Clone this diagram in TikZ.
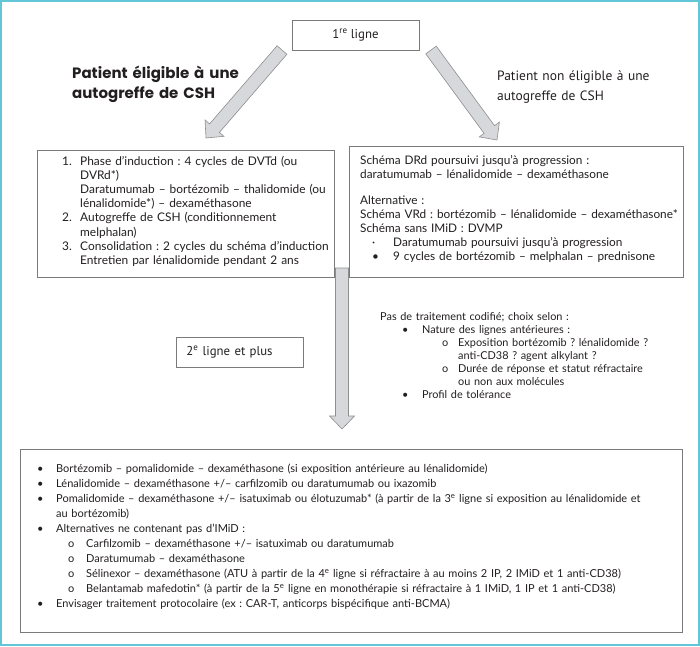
\documentclass[tikz,border=0pt]{standalone}
\usepackage{fontspec}
\setmainfont{Lato}
\newfontfamily\myr{PT Sans}
\newfontfamily\futb{Poppins}
\usetikzlibrary{calc}
\frenchspacing
\definecolor{frame}{HTML}{62C6D6}
\definecolor{boxgray}{HTML}{7A7A7A}
\definecolor{arrfill}{HTML}{D6D8DC}
\definecolor{arrline}{HTML}{8E8E8E}
\definecolor{ink}{HTML}{231F20}
\newcommand\blockarr[3]{%
  \coordinate (#3) at ($(#2)!13pt!(#1)$);
  \filldraw[barrow] ($(#1)!6.5pt!90:(#2)$) -- ($(#3)!6.5pt!90:(#2)$) -- ($(#3)!12.5pt!90:(#2)$)
    -- (#2) -- ($(#3)!12.5pt!-90:(#2)$) -- ($(#3)!6.5pt!-90:(#2)$) -- ($(#1)!6.5pt!-90:(#2)$) -- cycle;}
\newcommand\nb[1]{\makebox[18pt][l]{#1}}
\begin{document}
\frenchspacing
\begin{tikzpicture}[x=1pt,y=-1pt,
  box/.style={draw=boxgray, line width=0.8pt, fill=white},
  barrow/.style={fill=arrfill, draw=arrline, line width=0.6pt},
  txt/.style={anchor=base west, inner sep=0pt, align=left, text=ink},
  every node/.style={text=ink}]
\useasboundingbox (0,0) rectangle (700,646);
\draw[frame, line width=1.6pt] (0.8,0.8) rectangle (699.2,645.2);

% arrows
\coordinate (tl) at (282,50);
\coordinate (hl) at (206,138);
\coordinate (tr) at (431,50);
\coordinate (hr) at (497,140);
\coordinate (td) at (342,268);
\coordinate (hd) at (342,429);
\blockarr{tl}{hl}{bl}
\blockarr{tr}{hr}{br}
\blockarr{td}{hd}{bd}

% first line box
\node[box, minimum width=127, minimum height=30, inner sep=0pt, font=\myr\fontsize{12.8}{15}\selectfont] (l1) at (355.5,35) {1\textsuperscript{re} ligne};

\node[txt, text width=250pt, font=\futb\bfseries\fontsize{15}{20}\selectfont] (elabel) at (72,78) {Patient éligible à une\\autogreffe de CSH};
\node[txt, text width=200pt, font=\myr\fontsize{13.5}{20}\selectfont] (nlabel) at (497,80) {Patient non éligible à une\\autogreffe de CSH};

% left box
\node[box, minimum width=297, minimum height=127, anchor=north west, inner sep=0pt] (elig) at (37,150) {};
\node[txt, text width=290pt, font=\fontsize{11.9}{14.2}\selectfont] (eligtxt) at (62,165) {%
\nb{1.}Phase d’induction : 4 cycles de DVTd (ou\\
\nb{}DVRd*)\\
\nb{}Daratumumab – bortézomib – thalidomide (ou\\
\nb{}lénalidomide*) – dexaméthasone\\
\nb{2.}Autogreffe de CSH (conditionnement\\
\nb{}melphalan)\\
\nb{3.}Consolidation : 2 cycles du schéma d’induction\\
\nb{}Entretien par lénalidomide pendant 2 ans};

% right box
\node[box, minimum width=334, minimum height=131, anchor=north west, inner sep=0pt] (nelig) at (349,146) {};
\node[txt, text width=330pt, font=\fontsize{11.8}{14}\selectfont] (neligtxt) at (360,164) {%
Schéma DRd poursuivi jusqu’à progression :\\
daratumumab – lénalidomide – dexaméthasone\\[12pt]
Alternative :\\
Schéma VRd : bortézomib – lénalidomide – dexaméthasone*\\
Schéma sans IMiD : DVMP\\
\hspace*{12pt}\makebox[21pt][l]{·}Daratumumab poursuivi jusqu’à progression\\
\hspace*{12pt}\makebox[21pt][l]{•}9 cycles de bortézomib – melphalan – prednisone};

% second line
\node[box, minimum width=127, minimum height=30, anchor=west, text width=107pt, inner xsep=10pt, inner ysep=0pt, align=left, font=\myr\fontsize{12.8}{15}\selectfont] (l2) at (176,352) {2\textsuperscript{e} ligne et plus};

\node[txt, text width=310pt, font=\fontsize{10.9}{13}\selectfont] (choix) at (380,320) {%
Pas de traitement codifié; choix selon :\\
\hspace*{22pt}\makebox[20pt][l]{•}Nature des lignes antérieures :\\
\hspace*{62pt}\makebox[16pt][l]{o}Exposition bortézomib ? lénalidomide ?\\
\hspace*{78pt}anti-CD38 ? agent alkylant ?\\
\hspace*{62pt}\makebox[16pt][l]{o}Durée de réponse et statut réfractaire\\
\hspace*{78pt}ou non aux molécules\\
\hspace*{22pt}\makebox[20pt][l]{•}Profil de tolérance};

% bottom box
\node[box, minimum width=662, minimum height=183, anchor=north west, inner sep=0pt] (second) at (20,449) {};
\node[txt, text width=660pt, font=\fontsize{11}{15.1}\selectfont] (secondtxt) at (37,472) {%
\makebox[19pt][l]{•}Bortézomib – pomalidomide – dexaméthasone (si exposition antérieure au lénalidomide)\\
\makebox[19pt][l]{•}Lénalidomide – dexaméthasone +/– carfilzomib ou daratumumab ou ixazomib\\
\makebox[19pt][l]{•}Pomalidomide – dexaméthasone +/– isatuximab ou élotuzumab* (à partir de la 3\textsuperscript{e} ligne si exposition au lénalidomide et\\
\hspace*{19pt}au bortézomib)\\
\makebox[19pt][l]{•}Alternatives ne contenant pas d’IMiD :\\
\hspace*{31pt}\makebox[18pt][l]{o}Carfilzomib – dexaméthasone +/– isatuximab ou daratumumab\\
\hspace*{31pt}\makebox[18pt][l]{o}Daratumumab – dexaméthasone\\
\hspace*{31pt}\makebox[18pt][l]{o}Sélinexor – dexaméthasone (ATU à partir de la 4\textsuperscript{e} ligne si réfractaire à au moins 2 IP, 2 IMiD et 1 anti-CD38)\\
\hspace*{31pt}\makebox[18pt][l]{o}Belantamab mafedotin* (à partir de la 5\textsuperscript{e} ligne en monothérapie si réfractaire à 1 IMiD, 1 IP et 1 anti-CD38)\\
\makebox[19pt][l]{•}Envisager traitement protocolaire (ex : CAR-T, anticorps bispécifique anti-BCMA)};
\end{tikzpicture}
\end{document}
